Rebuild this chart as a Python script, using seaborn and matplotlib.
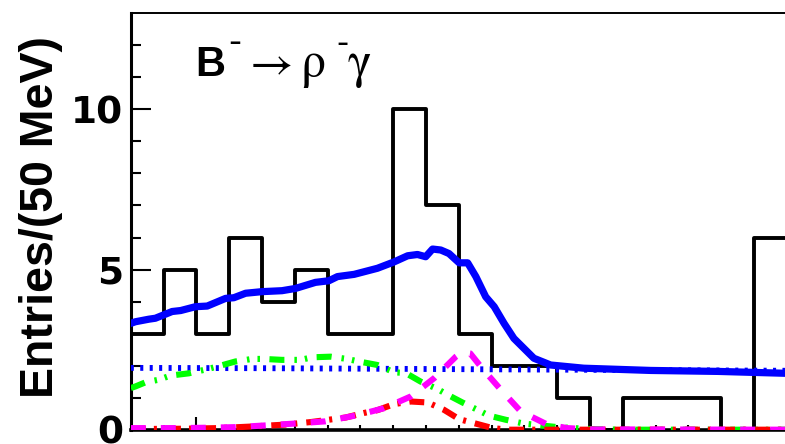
import numpy as np
import pandas as pd
import matplotlib
matplotlib.use("Agg")
import matplotlib.pyplot as plt
import seaborn as sns

# ---------------- data ----------------
# histogram: 20 bins of 50 MeV (x in bin units)
bin_edges = list(range(0, 21))
entries = [3, 5, 3, 6, 4, 5, 3, 3, 10, 7, 3, 2, 2, 1, 0, 1, 1, 1, 0, 6]

# total fit (blue solid)
total_x = [0.0, 0.14, 0.55, 0.75, 1.26, 1.52, 1.97, 2.33, 2.89, 3.14, 3.50, 4.00,
           4.61, 5.02, 5.63, 6.04, 6.30, 6.81, 7.52, 8.03, 8.44, 8.74, 8.99, 9.20,
           9.45, 9.70, 10.01, 10.27, 10.52, 10.82, 11.08, 11.38, 11.68, 12.29,
           12.80, 13.81, 15.85, 17.90, 20.0]
total_y = [3.32, 3.37, 3.45, 3.48, 3.69, 3.72, 3.84, 3.86, 4.10, 4.12, 4.26, 4.31,
           4.34, 4.41, 4.60, 4.65, 4.78, 4.85, 5.04, 5.24, 5.43, 5.47, 5.40, 5.64,
           5.61, 5.50, 5.21, 5.21, 4.78, 4.15, 3.84, 3.32, 2.85, 2.23,
           2.02, 1.92, 1.85, 1.82, 1.76]

# continuum background (blue dotted)
cont_x = [0.0, 4.0, 8.0, 12.0, 16.0, 20.0]
cont_y = [1.93, 1.92, 1.90, 1.88, 1.86, 1.84]

# B background (green dash-dot-dot)
bbkg_x = [0.0, 0.14, 0.45, 0.85, 1.21, 1.77, 2.33, 2.63, 3.19, 3.70, 4.05, 4.61,
          5.17, 5.53, 6.09, 6.59, 6.95, 7.52, 8.03, 8.38, 8.84, 9.35, 9.66, 10.11,
          10.57, 10.92, 11.43, 11.99, 13.01, 14.02, 15.0, 20.0]
bbkg_y = [1.30, 1.35, 1.48, 1.56, 1.69, 1.76, 1.89, 1.97, 2.13, 2.21, 2.21, 2.18,
          2.18, 2.26, 2.28, 2.21, 2.13, 2.02, 1.79, 1.77, 1.50, 1.27, 1.09, 0.85,
          0.62, 0.44, 0.31, 0.19, 0.08, 0.02, 0.0, 0.0]

# cross-feed (red dash-dot)
xfeed_x = [0.0, 1.57, 2.68, 3.70, 4.72, 5.50, 6.55, 7.10, 7.52, 8.03, 8.54, 9.05,
           9.55, 10.01, 10.52, 11.03, 11.50, 20.0]
xfeed_y = [0.02, 0.03, 0.05, 0.10, 0.16, 0.24, 0.38, 0.52, 0.61, 0.80, 0.88, 0.85,
           0.62, 0.33, 0.19, 0.05, 0.0, 0.0]

# signal (magenta dashed)
sig_x = [0.0, 0.35, 1.31, 2.23, 3.19, 4.05, 4.97, 5.93, 6.84, 7.72, 8.54, 9.25,
         9.91, 10.10, 10.35, 10.71, 11.28, 11.89, 12.70, 13.31, 14.0, 20.0]
sig_y = [0.05, 0.05, 0.05, 0.06, 0.08, 0.13, 0.19, 0.26, 0.44, 0.67, 1.04, 1.61,
         2.28, 2.42, 2.38, 1.92, 1.25, 0.57, 0.16, 0.05, 0.01, 0.0]

ylabel_text = "Entries/(50 MeV)"

# ---------------- style ----------------
sns.set_style("white")
plt.rcParams["font.family"] = ["Liberation Sans", "DejaVu Sans"]
plt.rcParams["lines.scale_dashes"] = False
for k in ("text.color", "axes.labelcolor", "xtick.color", "ytick.color",
          "axes.edgecolor"):
    plt.rcParams[k] = "black"

W, H = 785, 444
fig = plt.figure(figsize=(W / 100, H / 100), dpi=100)
ax_left, ax_right, ax_top, ax_bot = 130.8, 786.8, 13.3, 429.7
ax = fig.add_axes([ax_left / W, (H - ax_bot) / H,
                   (ax_right - ax_left) / W, (ax_bot - ax_top) / H])

hist_df = pd.DataFrame({"x": [e + 0.5 for e in bin_edges[:-1]], "w": entries})
sns.histplot(data=hist_df, x="x", weights="w", bins=bin_edges, element="step",
             fill=False, color="black", linewidth=2.8, ax=ax, zorder=2)

sns.lineplot(x=cont_x, y=cont_y, ax=ax, color=(0, 0, 1), linewidth=4.2,
             linestyle=(0, (2.2, 4.6)), estimator=None, sort=False, zorder=3)
sns.lineplot(x=bbkg_x, y=bbkg_y, ax=ax, color=(0, 1, 0), linewidth=4.4,
             linestyle=(0, (10.8, 7.2, 1.8, 5.8, 1.8, 6.8)),
             estimator=None, sort=False, zorder=4)
sns.lineplot(x=xfeed_x, y=xfeed_y, ax=ax, color=(1, 0, 0), linewidth=4.4,
             linestyle=(0, (10.8, 5.8, 2.2, 6.5)),
             estimator=None, sort=False, zorder=5)
sns.lineplot(x=sig_x, y=sig_y, ax=ax, color=(1, 0, 1), linewidth=4.4,
             linestyle=(0, (10.8, 10.8)),
             estimator=None, sort=False, zorder=6)
sns.lineplot(x=total_x, y=total_y, ax=ax, color=(0, 0, 1), linewidth=5.2,
             estimator=None, sort=False, zorder=7)

ax.set_xlim(0, 20)
ax.set_ylim(0, 13)

# ticks
ax.set_yticks([0, 5, 10])
ax.set_yticks([1, 2, 3, 4, 6, 7, 8, 9, 11, 12], minor=True)
ax.set_xticks([2])
ax.set_xticks(list(range(0, 21)), minor=True)
ax.set_xticklabels([])
ax.tick_params(axis="y", which="major", direction="in", length=14.4, width=1.5,
               pad=5.5, left=True, right=False, colors="black")
ax.tick_params(axis="y", which="minor", direction="in", length=7.2, width=1.5,
               left=True, right=False, colors="black")
ax.tick_params(axis="x", which="major", direction="in", length=9.4, width=1.5,
               bottom=True, top=False, colors="black")
ax.tick_params(axis="x", which="minor", direction="in", length=3.8, width=1.5,
               bottom=True, top=False, colors="black")
for lab in ax.get_yticklabels():
    lab.set_fontfamily(["DejaVu Sans"])
    lab.set_fontweight("bold")
    lab.set_fontsize(27)
    lab.set_color("black")

for side, lw in (("left", 2.2), ("bottom", 2.6), ("top", 1.4)):
    ax.spines[side].set_visible(True)
    ax.spines[side].set_linewidth(lw)
    ax.spines[side].set_color("black")
ax.spines["right"].set_visible(False)

ax.set_xlabel("")
ax.set_ylabel(ylabel_text, fontsize=33.5, fontweight="bold", color="black",
              fontfamily=["Liberation Sans", "DejaVu Sans"],
              rotation=90, ha="center", va="center")
ax.yaxis.set_label_coords((41.5 - ax_left) / (ax_right - ax_left),
                          (ax_bot - 216.5) / (ax_bot - ax_top))

# title pieces  B^- -> rho^- gamma
fam = ["Liberation Sans", "DejaVu Sans"]
gfam = ["STIXGeneral", "DejaVu Sans"]
def px(x, y):
    return x / W, 1 - y / H
fig.text(*px(195, 76), "B", fontsize=30, fontweight="bold", family=fam,
         ha="left", va="baseline", color="black")
fig.text(*px(235, 52.6), "-", fontsize=28, family=fam, ha="center",
         va="baseline", color="black")
fig.text(*px(250, 77), "\u2192", fontsize=34, family=gfam, ha="left",
         va="baseline", color="black")
fig.text(*px(300, 77), "\u03c1", fontsize=36, family=gfam, ha="left",
         va="baseline", color="black")
fig.text(*px(348, 52.6), "-", fontsize=26, family=fam, ha="right",
         va="baseline", color="black")
fig.text(*px(348, 77), "\u03b3", fontsize=36, family=gfam, ha="left",
         va="baseline", color="black")

fig.savefig("out.png", dpi=100)
